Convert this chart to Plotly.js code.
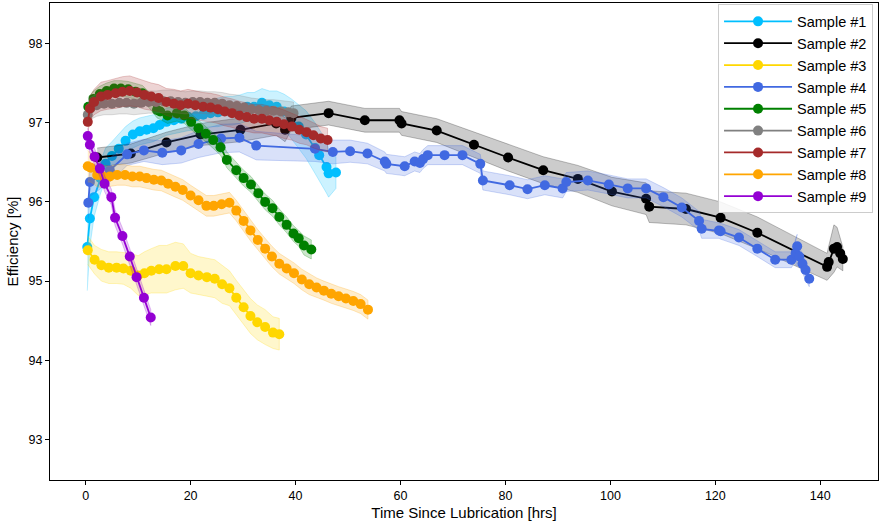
<!DOCTYPE html>
<html>
<head>
<meta charset="utf-8">
<script src="https://cdn.plot.ly/plotly-3.0.1.min.js"></script>
<style>html,body{margin:0;padding:0;background:#fff;}#chart{width:879px;height:521px;}</style>
</head>
<body>
<div id="chart"></div>
<script>
// ---- data ----
const names = ["Sample #1","Sample #2","Sample #3","Sample #4","Sample #5","Sample #6","Sample #7","Sample #8","Sample #9"];
const colors = ["#00BFFF","#000000","#FFD700","#4169E1","#008000","#808080","#A52A2A","#FFA500","#9400D3"];

const x1 = [0.3,0.8,1.6,2.8,3.8,5.0,6.3,7.6,9.0,10.3,11.6,12.9,14.1,15.4,16.8,18.2,19.6,21.0,22.4,23.8,25.2,26.6,28.0,29.4,30.8,32.1,33.6,35.0,36.4,37.8,39.2,40.6,42.0,43.7,44.5,45.9,46.3,47.7];
const y1 = [95.43,95.79,96.06,96.30,96.48,96.58,96.67,96.77,96.85,96.89,96.91,96.93,96.97,97.01,97.03,97.05,97.07,97.08,97.10,97.12,97.13,97.15,97.15,97.17,97.20,97.20,97.25,97.22,97.20,97.14,97.05,96.95,96.85,96.68,96.59,96.44,96.36,96.37];
const e1 = [0.55,0.35,0.25,0.2,0.2,0.18,0.18,0.18,0.17,0.17,0.17,0.17,0.17,0.17,0.17,0.17,0.17,0.17,0.17,0.17,0.18,0.18,0.18,0.18,0.18,0.18,0.18,0.18,0.2,0.22,0.25,0.28,0.3,0.32,0.33,0.33,0.3,0.2];

const x2 = [2.2,8.6,15.4,21.9,29.5,36.3,38.0,39.2,46.3,53.2,59.8,60.2,66.9,74.0,80.5,87.2,93.8,100.3,106.8,107.4,114.4,121.0,128.0,141.3,141.6,142.6,143.2,143.8,144.3];
const y2 = [96.56,96.61,96.75,96.85,96.91,96.99,96.91,97.06,97.12,97.03,97.03,96.99,96.90,96.72,96.56,96.40,96.29,96.13,96.04,95.94,95.91,95.80,95.61,95.18,95.24,95.41,95.43,95.35,95.28];
const e2 = [0.12,0.12,0.13,0.14,0.15,0.15,0.15,0.15,0.15,0.15,0.15,0.15,0.15,0.16,0.17,0.17,0.17,0.18,0.2,0.2,0.2,0.2,0.2,0.17,0.2,0.3,0.25,0.2,0.15];

const x3 = [0.4,1.7,3.0,4.4,5.9,7.2,8.6,10.0,11.2,12.5,14.0,15.4,17.1,18.6,20.0,21.5,23.1,24.6,26.0,27.4,28.7,30.1,31.4,32.7,34.2,35.7,36.9];
const y3 = [95.39,95.27,95.20,95.17,95.17,95.16,95.13,95.07,95.10,95.13,95.15,95.15,95.19,95.19,95.10,95.07,95.05,95.03,94.96,94.91,94.79,94.67,94.56,94.48,94.42,94.35,94.33];
const e3 = [0.18,0.18,0.2,0.2,0.2,0.2,0.22,0.25,0.27,0.28,0.3,0.3,0.3,0.28,0.25,0.24,0.24,0.24,0.24,0.22,0.22,0.22,0.22,0.22,0.22,0.2,0.2];

const x4 = [0.5,0.8,4.6,7.9,11.1,14.6,18.2,21.5,25.8,29.3,32.5,43.7,47.1,50.4,53.7,57.0,57.3,60.8,62.7,63.7,64.3,65.2,68.4,71.8,75.2,75.7,80.8,84.2,87.5,90.9,91.6,95.7,99.7,103.3,106.8,110.1,113.6,116.9,117.4,120.7,121.0,124.5,128.0,131.4,134.5,135.6,135.3,136.0,136.6,137.2,137.9];
const y4 = [95.99,96.25,96.40,96.60,96.65,96.62,96.65,96.73,96.80,96.81,96.71,96.67,96.63,96.64,96.61,96.51,96.48,96.45,96.51,96.49,96.54,96.59,96.59,96.59,96.48,96.27,96.21,96.16,96.21,96.17,96.25,96.27,96.22,96.17,96.17,96.06,95.93,95.76,95.66,95.64,95.63,95.55,95.41,95.27,95.27,95.44,95.35,95.31,95.22,95.14,95.03];
const e4 = [0.2,0.18,0.15,0.14,0.14,0.15,0.16,0.17,0.18,0.18,0.18,0.16,0.15,0.14,0.13,0.12,0.12,0.12,0.12,0.12,0.12,0.12,0.12,0.12,0.12,0.12,0.12,0.12,0.12,0.12,0.12,0.12,0.12,0.12,0.12,0.12,0.12,0.12,0.12,0.1,0.1,0.1,0.1,0.1,0.1,0.15,0.15,0.12,0.12,0.12,0.1];

const x5 = [0.5,1.5,2.7,4.0,5.4,6.7,8.1,9.5,10.8,12.2,13.6,14.2,15.6,17.4,18.8,20.1,21.5,22.9,24.3,25.7,26.9,28.7,30.1,31.5,32.9,34.2,35.6,36.9,38.3,39.6,40.6,41.6,43.0];
const y5 = [97.20,97.30,97.36,97.40,97.43,97.43,97.42,97.39,97.37,97.28,97.16,97.14,97.09,97.12,97.09,97.01,96.93,96.86,96.78,96.69,96.53,96.40,96.30,96.22,96.11,96.00,95.92,95.81,95.71,95.60,95.54,95.45,95.40];
const e5 = [0.12,0.1,0.1,0.1,0.1,0.1,0.1,0.1,0.1,0.1,0.1,0.1,0.1,0.1,0.1,0.1,0.1,0.1,0.1,0.1,0.1,0.1,0.1,0.1,0.1,0.1,0.1,0.1,0.1,0.1,0.1,0.12,0.12];

const x6 = [0.4,0.9,2.1,3.5,5.0,6.4,7.8,9.2,10.6,12.0,13.4,14.8,16.2,17.6,19.0,20.4,21.8,23.2,24.6,26.0,27.4,28.8,30.2,31.6,33.0,34.4,35.8,37.2,38.6,39.6];
const y6 = [97.10,97.18,97.22,97.24,97.24,97.25,97.25,97.24,97.25,97.26,97.26,97.27,97.27,97.26,97.25,97.26,97.26,97.25,97.25,97.24,97.22,97.21,97.19,97.17,97.16,97.15,97.15,97.14,97.13,97.12];
const e6 = [0.15,0.14,0.14,0.14,0.14,0.14,0.14,0.14,0.14,0.14,0.14,0.14,0.14,0.14,0.14,0.14,0.14,0.14,0.14,0.14,0.14,0.14,0.14,0.14,0.14,0.14,0.14,0.14,0.14,0.14];

const x7 = [0.4,0.8,1.6,2.9,4.2,5.7,7.0,8.4,9.8,11.2,12.5,13.9,15.4,16.8,18.1,19.5,20.9,22.4,23.8,25.2,26.5,27.9,29.3,30.7,32.1,33.6,35.0,36.4,37.8,39.3,40.7,42.1,43.4,44.8,46.1];
const y7 = [97.01,97.18,97.26,97.33,97.35,97.37,97.39,97.40,97.38,97.35,97.33,97.31,97.26,97.24,97.22,97.24,97.22,97.20,97.19,97.17,97.14,97.12,97.09,97.07,97.05,97.05,97.03,97.01,96.98,96.95,96.91,96.88,96.84,96.80,96.78];
const e7 = [0.15,0.15,0.16,0.18,0.18,0.19,0.19,0.19,0.18,0.18,0.17,0.17,0.17,0.18,0.18,0.18,0.18,0.18,0.18,0.18,0.18,0.18,0.18,0.18,0.18,0.18,0.18,0.18,0.18,0.17,0.17,0.16,0.16,0.15,0.15];

const x8 = [0.4,1.0,2.2,3.3,4.6,6.0,7.5,8.9,10.3,11.6,13.0,14.4,15.7,17.1,18.5,20.0,21.5,23.0,24.4,25.9,27.4,28.7,30.1,31.4,32.8,34.2,35.5,36.9,38.3,39.7,41.2,42.6,44.0,45.4,46.8,48.2,49.6,51.0,52.4,53.8];
const y8 = [96.45,96.43,96.34,96.32,96.32,96.34,96.34,96.32,96.32,96.30,96.28,96.27,96.23,96.19,96.15,96.08,96.02,95.95,95.95,95.97,95.99,95.89,95.76,95.64,95.52,95.41,95.31,95.22,95.16,95.10,95.02,94.96,94.92,94.88,94.84,94.81,94.78,94.75,94.71,94.64];
const e8 = [0.2,0.18,0.15,0.14,0.13,0.13,0.13,0.13,0.13,0.13,0.13,0.13,0.13,0.13,0.13,0.13,0.13,0.13,0.13,0.13,0.13,0.13,0.13,0.13,0.13,0.13,0.13,0.13,0.13,0.13,0.13,0.13,0.12,0.12,0.12,0.12,0.12,0.12,0.12,0.12];

const x9 = [0.4,0.8,1.7,2.7,3.6,4.9,5.6,7.0,8.4,9.7,11.1,12.4];
const y9 = [96.83,96.72,96.57,96.42,96.23,96.06,95.80,95.57,95.31,95.05,94.79,94.54];
const e9 = [0.1,0.1,0.1,0.1,0.1,0.1,0.1,0.1,0.1,0.1,0.1,0.1];

const xs = [x1,x2,x3,x4,x5,x6,x7,x8,x9];
const ys = [y1,y2,y3,y4,y5,y6,y7,y8,y9];
const es = [e1,e2,e3,e4,e5,e6,e7,e8,e9];

function rgba(hex, a){
  const n = parseInt(hex.slice(1),16);
  return `rgba(${(n>>16)&255},${(n>>8)&255},${n&255},${a})`;
}

const traces = [];
for (let i=0;i<names.length;i++){
  const x = xs[i], y = ys[i], e = es[i];
  const up = y.map((v,k)=>v+e[k]);
  const lo = y.map((v,k)=>v-e[k]);
  traces.push({
    x: x.concat(x.slice().reverse()),
    y: up.concat(lo.slice().reverse()),
    type:'scatter', mode:'lines', fill:'toself',
    fillcolor: rgba(colors[i],0.2),
    line:{color: rgba(colors[i],0.25), width:1},
    hoverinfo:'skip', showlegend:false
  });
  traces.push({
    x: x, y: y, name: names[i],
    type:'scatter', mode:'lines+markers',
    line:{color: colors[i], width:1.8},
    marker:{color: colors[i], size:10}
  });
}

const font = "Liberation Sans, Arial, sans-serif";
const layout = {
  width:879, height:521,
  margin:{l:50, r:1, t:3, b:41},
  paper_bgcolor:'#fff', plot_bgcolor:'#fff',
  font:{family:font, color:'#000', size:12},
  showlegend:true,
  legend:{x:0.994, y:0.997, xanchor:'right', yanchor:'top',
    bgcolor:'rgba(255,255,255,0.85)', bordercolor:'#cccccc', borderwidth:1,
    font:{family:font, size:14.5, color:'#000'}, itemwidth:68, tracegroupgap:0},
  xaxis:{range:[-6.8,151], tickvals:[0,20,40,60,80,100,120,140],
    showgrid:false, zeroline:false, showline:true, linecolor:'#000', linewidth:1, mirror:true,
    ticks:'outside', ticklen:4, tickcolor:'#000', tickfont:{size:12.5},
    title:{text:'Time Since Lubrication [hrs]', font:{size:15}, standoff:5}, automargin:false},
  yaxis:{range:[92.49,98.51], tickvals:[93,94,95,96,97,98],
    showgrid:false, zeroline:false, showline:true, linecolor:'#000', linewidth:1, mirror:true,
    ticks:'outside', ticklen:4, tickcolor:'#000', tickfont:{size:12.5},
    title:{text:'Efficiency [%]', font:{size:15}, standoff:6}, automargin:false}
};

Plotly.newPlot('chart', traces, layout, {displayModeBar:false, staticPlot:true});
</script>
</body>
</html>
